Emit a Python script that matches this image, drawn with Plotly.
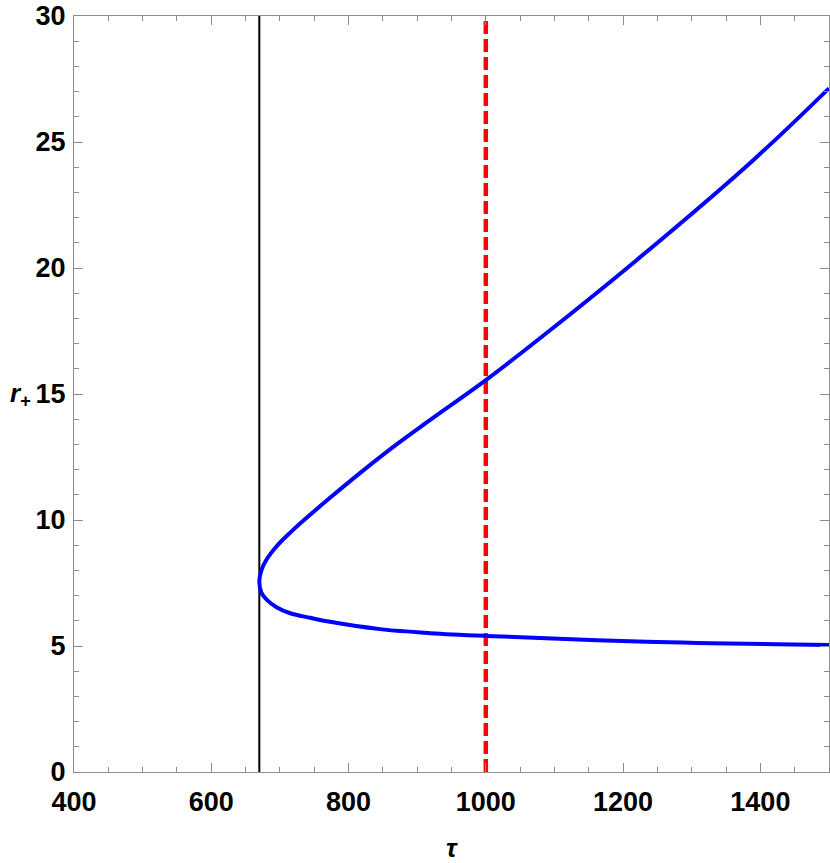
""" Import Libraries """
import plotly.graph_objects as go

""" Data """

# r_+ versus tau (small branch -> turning point -> large branch)
tau_curve = [1500, 1234, 1000, 919, 846, 773, 744, 715, 695, 681, 673, 670,
             673, 681, 695, 715, 729, 773, 822, 870, 919, 1000, 1089, 1220, 1390, 1500]
r_curve = [5.04, 5.17, 5.40, 5.51, 5.67, 5.96, 6.12, 6.30, 6.54, 6.83, 7.12, 7.55,
           8.00, 8.45, 8.95, 9.50, 9.85, 10.88, 11.98, 13.00, 13.97, 15.55, 17.43, 20.32, 24.29, 27.13]

# vertical markers
tau_min = 670
tau_ref = 1000
r_span = [0, 30]

x_ticks = [400, 600, 800, 1000, 1200, 1400]
y_ticks = [0, 5, 10, 15, 20, 25, 30]

""" Figure """

fig = go.Figure()

fig.add_trace(go.Scatter(x=[tau_min, tau_min], y=r_span, mode='lines',
                         line=dict(color='black', width=2), hoverinfo='skip'))

fig.add_trace(go.Scatter(x=[tau_ref, tau_ref], y=r_span, mode='lines',
                         line=dict(color='#FF0000', width=4.5, dash='13px,5px'), hoverinfo='skip'))

fig.add_trace(go.Scatter(x=tau_curve, y=r_curve, mode='lines',
                         line=dict(color='#0000FF', width=4, shape='spline', smoothing=1.0)))

axis_style = dict(showgrid=False, zeroline=False, showline=True, linecolor='#8c8c8c', linewidth=1,
                  mirror='allticks', ticks='inside', ticklen=9, tickwidth=1, tickcolor='#8c8c8c',
                  automargin=False, ticklabeloverflow='allow',
                  tickfont=dict(family='Liberation Sans', size=27, color='black', weight='bold'))

fig.update_xaxes(range=[400, 1500], tickvals=x_ticks, ticklabelstandoff=6,
                 minor=dict(dtick=50, ticks='inside', ticklen=5, tickcolor='#8c8c8c', tickwidth=1),
                 **axis_style)
fig.update_yaxes(range=[0, 30], tickvals=y_ticks, ticklabelstandoff=2,
                 minor=dict(dtick=1, ticks='inside', ticklen=5, tickcolor='#8c8c8c', tickwidth=1),
                 **axis_style)

# axis titles as annotations (Mathematica style, horizontal)
fig.add_annotation(text='<b><i>τ</i></b>', x=0.5, y=0, xref='paper', yref='paper',
                   yshift=-76, showarrow=False, yanchor='middle',
                   font=dict(family='Liberation Sans', size=26, color='black'))
fig.add_annotation(text='<b><i>r</i></b><sub><b>+</b></sub>', x=0, y=0.5, xref='paper', yref='paper',
                   xshift=-54, showarrow=False, xanchor='center', yanchor='middle',
                   font=dict(family='Liberation Sans', size=26, color='black'))

fig.update_layout(width=830, height=863, showlegend=False,
                  margin=dict(l=74, r=1, t=16, b=91, autoexpand=False),
                  plot_bgcolor='white', paper_bgcolor='white')

# drop the default 8px page margin so the figure fills the window exactly
fig.write_html("out.html", config={'displayModeBar': False},
               post_script="document.body.style.margin='0';document.body.style.overflow='hidden';")
